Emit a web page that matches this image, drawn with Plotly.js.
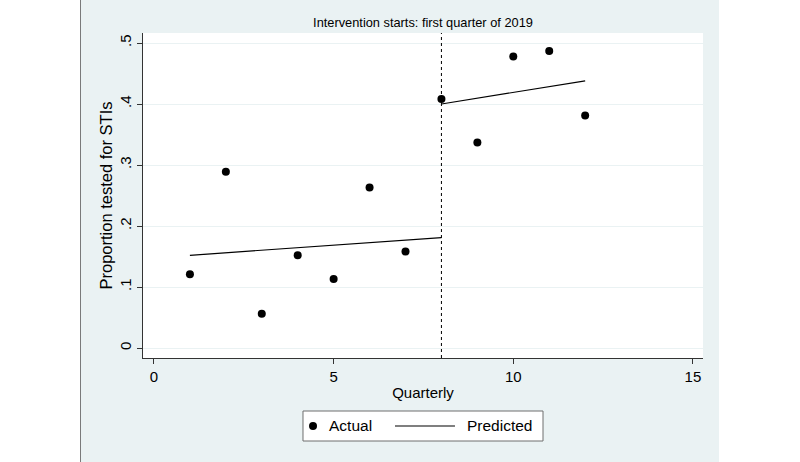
<!DOCTYPE html>
<html>
<head>
<meta charset="utf-8">
<script src="https://cdn.plot.ly/plotly-3.0.1.min.js"></script>
<style>
  html, body { margin: 0; padding: 0; background: #ffffff; }
  #bg { position: absolute; left: 80px; top: 0; width: 639px; height: 462px; background: #EAF2F3; border-left: 1px solid #7a7a7a; box-sizing: border-box; }
  #chart { position: absolute; left: 0; top: 0; width: 800px; height: 462px; }
</style>
</head>
<body>
<div id="bg"></div>
<div id="chart"></div>
<script>
// Observed values (quarterly proportions)
const quarters = [1, 2, 3, 4, 5, 6, 7, 8, 9, 10, 11, 12];
const actual = [0.121, 0.289, 0.056, 0.152, 0.113, 0.263, 0.158, 0.408, 0.337, 0.478, 0.487, 0.381];

// Predicted segmented regression lines (endpoints of each segment)
const preX1 = [1, 8];
const preY1 = [0.152, 0.181];
const postX2 = [8, 12];
const postY2 = [0.400, 0.438];

const interventionQuarter = 8;
const titleText = "Intervention starts: first quarter of 2019";
const xTicks = [0, 5, 10, 15];
const yTicks = [0, 0.1, 0.2, 0.3, 0.4, 0.5];
const yTickLabels = ["0", ".1", ".2", ".3", ".4", ".5"];
const legendLabels = ["Actual", "Predicted"];

const FONT = "Liberation Sans, Arial, sans-serif";

const traces = [
  {
    x: quarters, y: actual, type: "scatter", mode: "markers", name: legendLabels[0],
    marker: { color: "#000000", size: 8 }, showlegend: false
  },
  {
    x: preX1, y: preY1, type: "scatter", mode: "lines", name: legendLabels[1],
    line: { color: "#000000", width: 1.2 }, showlegend: false
  },
  {
    x: postX2, y: postY2, type: "scatter", mode: "lines", name: legendLabels[1],
    line: { color: "#000000", width: 1.2 }, showlegend: false
  }
];

// Legend box drawn in paper coordinates (below plot area)
const legY = -0.2092;
const layout = {
  width: 800, height: 462,
  margin: { l: 143, r: 97, t: 33, b: 104 },
  paper_bgcolor: "rgba(0,0,0,0)",
  plot_bgcolor: "#ffffff",
  font: { family: FONT, color: "#000000" },
  showlegend: false,
  title: {
    text: titleText,
    font: { family: FONT, size: 12.8, color: "#000000" },
    x: 0.5, xref: "paper", xanchor: "center",
    y: 1, yref: "paper", yanchor: "bottom",
    pad: { b: 6 }
  },
  xaxis: {
    range: [-0.306, 15.28],
    tickvals: xTicks,
    ticktext: xTicks.map(String),
    ticks: "outside", ticklen: 5, tickcolor: "#333333", tickwidth: 1,
    showgrid: false, zeroline: false,
    showline: true, linecolor: "#333333", linewidth: 1,
    tickfont: { family: FONT, size: 15, color: "#000000" },
    title: { text: "Quarterly", font: { family: FONT, size: 15, color: "#000000" }, standoff: 3 }
  },
  yaxis: {
    range: [-0.0164, 0.5164],
    tickvals: yTicks,
    ticktext: yTickLabels,
    tickangle: -90,
    ticks: "outside", ticklen: 5, tickcolor: "#333333", tickwidth: 1,
    showgrid: true, gridcolor: "#EAF2F3", gridwidth: 1,
    zeroline: false,
    showline: true, linecolor: "#333333", linewidth: 1,
    tickfont: { family: FONT, size: 15, color: "#000000" },
    title: { text: "Proportion tested for STIs", font: { family: FONT, size: 16.5, color: "#000000" }, standoff: 0 }
  },
  shapes: [
    {
      type: "line", xref: "x", yref: "paper",
      x0: interventionQuarter, x1: interventionQuarter, y0: 0, y1: 1,
      line: { color: "#000000", width: 1, dash: "3px,3px" }
    },
    {
      type: "rect", xref: "paper", yref: "paper",
      x0: 0.2857, x1: 0.7143, y0: -0.2554, y1: -0.1631,
      fillcolor: "#ffffff", line: { color: "#6e6e6e", width: 1 }
    },
    {
      type: "circle", xref: "paper", yref: "paper",
      xsizemode: "pixel", ysizemode: "pixel",
      xanchor: 0.3036, yanchor: legY,
      x0: -4, x1: 4, y0: -4, y1: 4,
      fillcolor: "#000000", line: { color: "#000000", width: 0 }
    },
    {
      type: "line", xref: "paper", yref: "paper",
      x0: 0.45, x1: 0.5571, y0: legY, y1: legY,
      line: { color: "#000000", width: 1.2 }
    }
  ],
  annotations: [
    {
      text: legendLabels[0], xref: "paper", yref: "paper",
      x: 0.3286, y: legY, xanchor: "left", yanchor: "middle", showarrow: false,
      font: { family: FONT, size: 15.5, color: "#000000" }
    },
    {
      text: legendLabels[1], xref: "paper", yref: "paper",
      x: 0.575, y: legY, xanchor: "left", yanchor: "middle", showarrow: false,
      font: { family: FONT, size: 15.5, color: "#000000" }
    }
  ]
};

Plotly.newPlot("chart", traces, layout, { displayModeBar: false, staticPlot: true });
</script>
</body>
</html>
